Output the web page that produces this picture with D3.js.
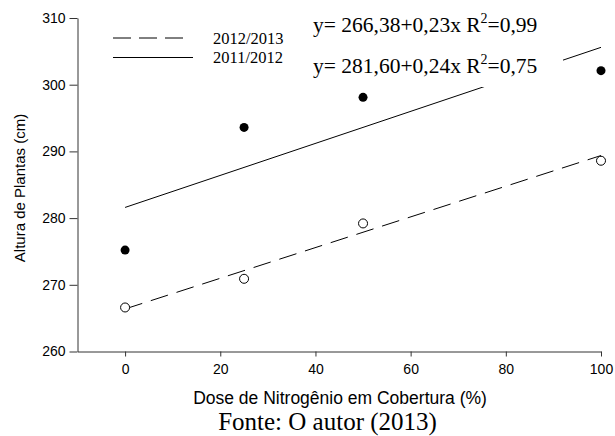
<!DOCTYPE html>
<html>
<head>
<meta charset="utf-8">
<script src="https://cdn.jsdelivr.net/npm/d3@7"></script>
<style>
  html, body { margin: 0; padding: 0; background: #fff; }
  svg { display: block; }
</style>
</head>
<body>
<svg id="chart" width="615" height="436"></svg>
<script>
// ---- data ----
const doses = [0, 25, 50, 100];
const series2011 = [275.2, 293.6, 298.1, 302.1];   // 2011/2012 (filled)
const series2013 = [266.6, 270.9, 279.2, 288.6];   // 2012/2013 (open)
const fit2011 = { a: 281.60, b: 0.24 };
const fit2013 = { a: 266.38, b: 0.23 };
const xTicks = [0, 20, 40, 60, 80, 100];
const yTicks = [260, 270, 280, 290, 300, 310];
const legendLabels = ["2012/2013", "2011/2012"];
const eqLabels = [
  { pre: "y= 266,38+0,23x R", sup: "2", post: "=0,99" },
  { pre: "y= 281,60+0,24x R", sup: "2", post: "=0,75" }
];

const svg = d3.select("#chart");
const x = d3.scaleLinear().domain([-10, 100]).range([77.5, 601]);
const y = d3.scaleLinear().domain([260, 310]).range([351.5, 18]);

const SANS = "'Liberation Sans', Arial, sans-serif";
const SERIF = "'Liberation Serif', 'Times New Roman', serif";

// axes
const xAxis = svg.append("g").attr("transform", `translate(0,${y(260)})`)
  .call(d3.axisBottom(x).tickValues(xTicks).tickSize(5).tickPadding(8).tickSizeOuter(0));
const yAxis = svg.append("g").attr("transform", `translate(${x(-10)},0)`)
  .call(d3.axisLeft(y).tickValues(yTicks).tickSize(8).tickPadding(4).tickSizeOuter(0));
[xAxis, yAxis].forEach(g => {
  g.selectAll("path, line").attr("stroke", "#333").attr("stroke-width", 1);
  g.selectAll("text").attr("font-family", SANS).attr("font-size", 14).attr("fill", "#000");
});

// regression lines
const lineGen = d3.line().x(d => x(d[0])).y(d => y(d[1]));
svg.append("path")
  .datum([[0, fit2013.a], [100, fit2013.a + fit2013.b * 100]])
  .attr("d", lineGen).attr("fill", "none").attr("stroke", "#000")
  .attr("stroke-width", 1).attr("stroke-dasharray", "18,9");
svg.append("path")
  .datum([[0, fit2011.a], [100, fit2011.a + fit2011.b * 100]])
  .attr("d", lineGen).attr("fill", "none").attr("stroke", "#000")
  .attr("stroke-width", 1);

// opaque equation box
svg.append("rect").attr("x", 305).attr("y", 0).attr("width", 258).attr("height", 87)
  .attr("fill", "#fff");

// points
svg.append("g").selectAll("circle").data(doses).join("circle")
  .attr("cx", d => x(d)).attr("cy", (d, i) => y(series2011[i]))
  .attr("r", 4.5).attr("fill", "#000");
svg.append("g").selectAll("circle").data(doses).join("circle")
  .attr("cx", d => x(d)).attr("cy", (d, i) => y(series2013[i]))
  .attr("r", 4.5).attr("fill", "#fff").attr("stroke", "#000").attr("stroke-width", 1);

// legend
const lg = svg.append("g");
lg.append("line").attr("x1", 113).attr("x2", 183).attr("y1", 38).attr("y2", 38)
  .attr("stroke", "#000").attr("stroke-width", 1).attr("stroke-dasharray", "18,8");
lg.append("line").attr("x1", 113).attr("x2", 193).attr("y1", 57.5).attr("y2", 57.5)
  .attr("stroke", "#000").attr("stroke-width", 1);
lg.selectAll("text").data(legendLabels).join("text")
  .attr("x", 213).attr("y", (d, i) => 44 + i * 18.5)
  .attr("font-family", SERIF).attr("font-size", 16.5).attr("fill", "#000")
  .text(d => d);

// equations
eqLabels.forEach((e, i) => {
  const t = svg.append("text").attr("x", 313).attr("y", 32 + i * 41)
    .attr("font-family", SERIF).attr("font-size", 21.5).attr("fill", "#000");
  t.append("tspan").text(e.pre);
  t.append("tspan").attr("dy", -9).attr("font-size", 14).text(e.sup);
  t.append("tspan").attr("dy", 9).text(e.post);
});

// axis titles
svg.append("text").attr("transform", "translate(25,188) rotate(-90)")
  .attr("text-anchor", "middle").attr("font-family", SANS).attr("font-size", 15)
  .text("Altura de Plantas (cm)");
svg.append("text").attr("x", 340).attr("y", 404).attr("text-anchor", "middle")
  .attr("font-family", SANS).attr("font-size", 17.5)
  .text("Dose de Nitrogênio em Cobertura (%)");
svg.append("text").attr("x", 327.5).attr("y", 430).attr("text-anchor", "middle")
  .attr("font-family", SERIF).attr("font-size", 25)
  .text("Fonte: O autor (2013)");
</script>
</body>
</html>
